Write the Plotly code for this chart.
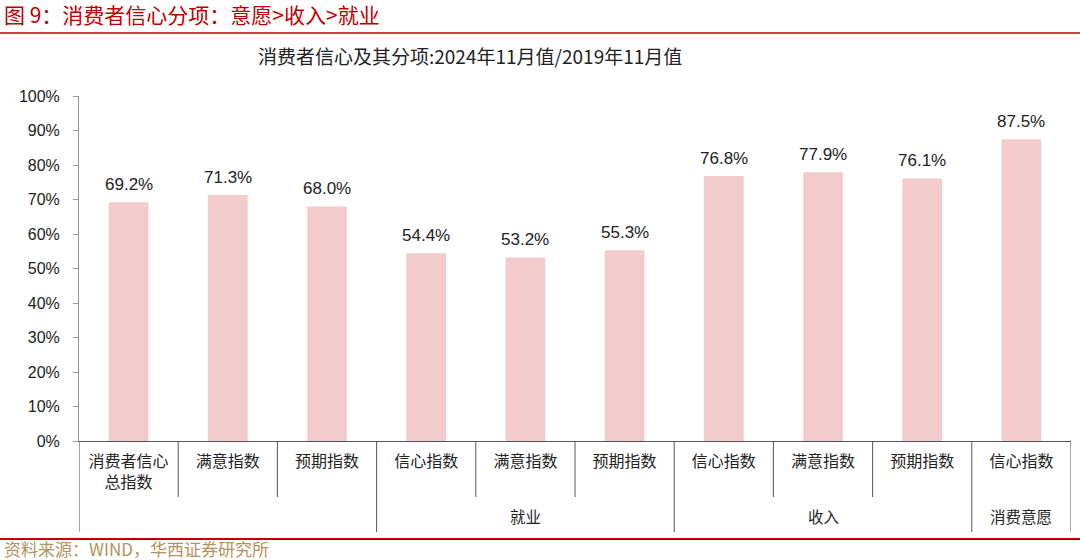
import plotly.graph_objects as go

categories = ["消费者信心<br>总指数", "满意指数", "预期指数", "信心指数", "满意指数", "预期指数",
              "信心指数", "满意指数", "预期指数", "信心指数"]
groups = ["", "", "", "就业", "就业", "就业", "收入", "收入", "收入", "消费意愿"]
values = [69.2, 71.3, 68.0, 54.4, 53.2, 55.3, 76.8, 77.9, 76.1, 87.5]
y_ticks = [0, 10, 20, 30, 40, 50, 60, 70, 80, 90, 100]

CJK = "Noto Sans CJK SC, sans-serif"
NUM = "Liberation Sans, Arial, sans-serif"

L, R, T, B = 79, 9, 96, 119
W, H = 1080 - L - R, 560 - T - B


def px_to_paper(px, py):
    return (px - L) / W, (560 - B - py) / H


idx = list(range(len(categories)))
fig = go.Figure()
fig.add_trace(go.Bar(
    x=idx, y=[v / 100 for v in values],
    marker=dict(color="#f3cbcb", line=dict(width=0)),
    width=0.4, hoverinfo="x+y",
))

shapes = []
annotations = []

# value labels
for i, v in zip(idx, values):
    annotations.append(dict(x=i, y=v / 100, xref="x", yref="y", text=f"{v:.1f}%", showarrow=False,
                            yanchor="bottom", yshift=6,
                            font=dict(family=NUM, size=17, color="#222222")))

# child separators (short) and group dividers (long)
bounds = [i - 0.5 for i in range(len(categories) + 1)]
for k, b in enumerate(bounds):
    if k == 0 or k == len(categories) or groups[k] != groups[k - 1]:
        y1 = -(532 - 441) / H
    else:
        y1 = -(497 - 441) / H
    shapes.append(dict(type="line", xref="x", yref="paper", x0=b, x1=b, y0=0, y1=y1,
                       line=dict(color="#555555", width=1)))

# group labels
seen = []
for g in groups:
    if g and g not in seen:
        seen.append(g)
for g in seen:
    members = [i for i, gg in enumerate(groups) if gg == g]
    cx = (members[0] + members[-1]) / 2
    annotations.append(dict(x=cx, y=-(516 - 441) / H, xref="x", yref="paper", text=g, showarrow=False,
                            font=dict(family=CJK, size=15.5, color="#222222"), yanchor="middle"))

# header and footer lines
_, y_top = px_to_paper(0, 33)
_, y_bot = px_to_paper(0, 539)
x_left, _ = px_to_paper(0, 0)
x_right, _ = px_to_paper(1080, 0)
shapes.append(dict(type="line", xref="paper", yref="paper", x0=x_left, x1=x_right,
                   y0=y_top, y1=y_top, line=dict(color="#c00000", width=1.5)))
shapes.append(dict(type="line", xref="paper", yref="paper", x0=x_left, x1=x_right,
                   y0=y_bot, y1=y_bot, line=dict(color="#c00000", width=2)))

texts = [
    (2, 14, "left", "图 9：消费者信心分项：意愿&gt;收入&gt;就业", 21, "#c00000"),
    (2, 548, "left", "资料来源：WIND，华西证券研究所", 17, "#b8915c"),
    (470, 55, "center", "消费者信心及其分项:2024年11月值/2019年11月值", 19, "#222222"),
]
for px, py, xa, t, sz, col in texts:
    ax, ay = px_to_paper(px, py)
    annotations.append(dict(x=ax, y=ay, xref="paper", yref="paper", xanchor=xa, yanchor="middle",
                            text=t, showarrow=False, font=dict(family=CJK, size=sz, color=col)))

fig.update_layout(
    width=1080, height=560,
    margin=dict(l=L, r=R, t=T, b=B, autoexpand=False),
    paper_bgcolor="white", plot_bgcolor="white",
    showlegend=False,
    shapes=shapes, annotations=annotations,
    xaxis=dict(range=[-0.5, len(categories) - 0.5], tickmode="array", tickvals=idx, ticktext=categories,
               showgrid=False, zeroline=False, showline=True, linecolor="#555555", linewidth=1,
               ticks="", tickfont=dict(family=CJK, size=16, color="#222222"),
               ticklabelstandoff=6, automargin=False),
    yaxis=dict(range=[0, 1], tickmode="array", tickvals=[t / 100 for t in y_ticks],
               ticktext=[f"{t}%" for t in y_ticks], showgrid=False, zeroline=False,
               showline=True, linecolor="#999999", linewidth=1, ticks="outside", ticklen=5,
               tickcolor="#999999", tickfont=dict(family=NUM, size=16, color="#222222"),
               ticklabelstandoff=10, automargin=False),
)
fig.write_html("out.html", config={"displayModeBar": False},
               post_script="document.body.style.margin='0';document.body.style.padding='0';")
